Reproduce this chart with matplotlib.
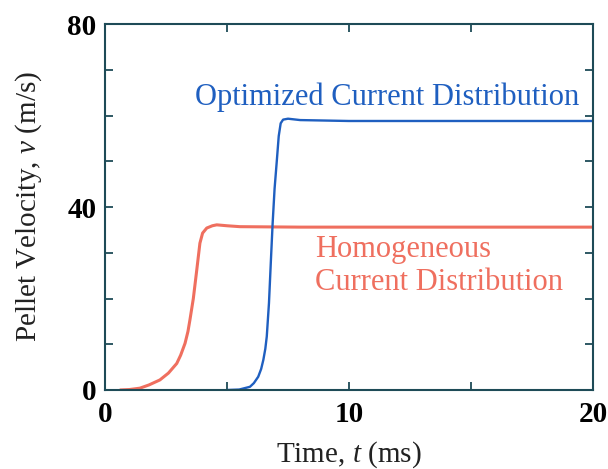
import matplotlib
matplotlib.use("Agg")
import matplotlib.pyplot as plt
from matplotlib.ticker import MultipleLocator

# Data
red_t = [0.6, 1.0, 1.43, 1.8, 2.25, 2.6, 2.94, 3.1, 3.28, 3.4, 3.48, 3.62, 3.76,
         3.89, 4.0, 4.17, 4.4, 4.58, 5.0, 5.53, 8.0, 20.0]
red_v = [0.0, 0.1, 0.4, 1.1, 2.2, 3.7, 5.8, 7.6, 10.2, 12.8, 15.3, 20.0, 26.2,
         32.1, 34.3, 35.4, 35.9, 36.1, 35.9, 35.7, 35.6, 35.6]

blue_t = [5.0, 5.5, 5.94, 6.1, 6.28, 6.4, 6.49, 6.57, 6.63, 6.72, 6.8, 6.87,
          6.95, 7.04, 7.12, 7.2, 7.3, 7.5, 8.0, 10.0, 20.0]
blue_v = [0.0, 0.1, 0.7, 1.5, 2.9, 4.6, 6.6, 9.0, 11.7, 19.0, 28.4, 36.4,
          44.0, 50.0, 55.5, 58.3, 59.1, 59.3, 59.0, 58.8, 58.8]

x_ticks = [0, 10, 20]
y_ticks = [0, 40, 80]

RED = "#ef6f5f"
BLUE = "#1f5fc0"
AX = "#1e4b57"

plt.rcParams["font.family"] = ["Liberation Serif", "DejaVu Serif"]
plt.rcParams["mathtext.fontset"] = "custom"
plt.rcParams["mathtext.rm"] = "Liberation Serif"
plt.rcParams["mathtext.it"] = "Liberation Serif:italic"

fig = plt.figure(figsize=(6.08, 4.69), dpi=100)
ax = fig.add_axes([105/608, 1-390/469, (593-105)/608, (390-24)/469])

ax.plot(red_t, red_v, color=RED, lw=2.2, solid_capstyle="butt")
ax.plot(blue_t, blue_v, color=BLUE, lw=1.7, solid_capstyle="butt")

ax.set_xlim(0, 20)
ax.set_ylim(0, 80)
ax.set_xticks(x_ticks)
ax.set_yticks(y_ticks)
ax.xaxis.set_minor_locator(MultipleLocator(5))
ax.yaxis.set_minor_locator(MultipleLocator(10))
ax.tick_params(which="both", direction="in", length=6, width=1.3, color=AX,
               top=True, right=True, labelsize=21, pad=6)
ax.tick_params(axis="x", pad=8)
for lab in ax.get_xticklabels() + ax.get_yticklabels():
    lab.set_fontweight("bold")
for s in ax.spines.values():
    s.set_color(AX)
    s.set_linewidth(1.5)

ax.set_xlabel("Time, $t$ (ms)", fontsize=21, labelpad=8, color="#222222")
ax.set_ylabel("Pellet Velocity, $v$ (m/s)", fontsize=21, labelpad=17, color="#222222")

ax.text(195, 469-97, "Optimized Current Distribution", transform=None,
        color=BLUE, fontsize=22, va="center", ha="left")
ax.text(315, 469-266, "Homogeneous\nCurrent Distribution", transform=None,
        color=RED, fontsize=22, va="center", ha="left", linespacing=1.22)

fig.savefig("out.png", dpi=100)
